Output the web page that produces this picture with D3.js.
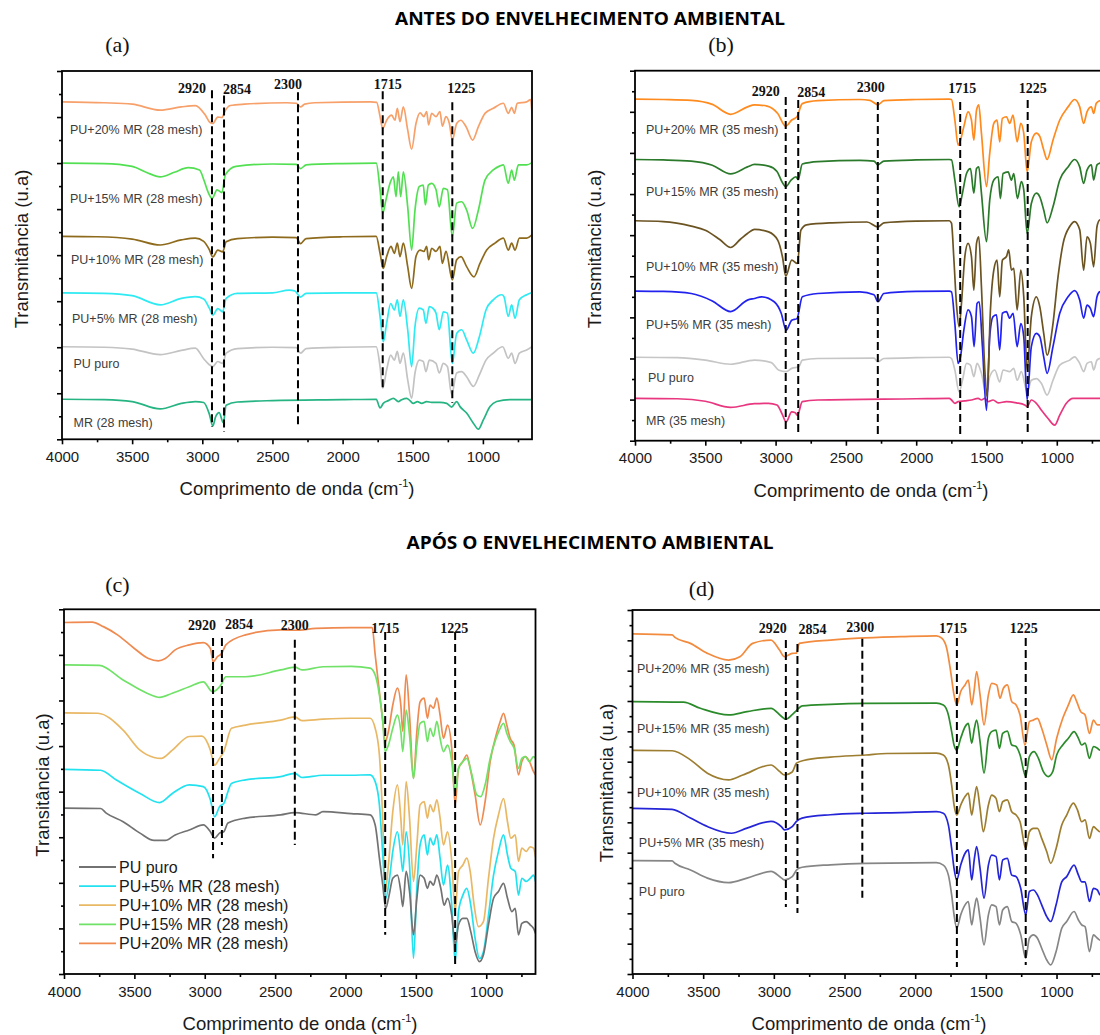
<!DOCTYPE html>
<html>
<head>
<meta charset="utf-8">
<script src="https://cdn.jsdelivr.net/npm/d3@7.9.0/dist/d3.min.js"></script>
<style>
  body { margin: 0; background: #fff; }
  svg { display: block; }
</style>
</head>
<body>
<svg id="chart" width="1100" height="1035"></svg>
<script>
// ---- shared axis values ----
const wavenumberTicks = [4000, 3500, 3000, 2500, 2000, 1500, 1000];
const wavenumberMinor = [3750, 3250, 2750, 2250, 1750, 1250, 750];
const peakLabels = ["2920", "2854", "2300", "1715", "1225"];

// ---- (a) antes, 28 mesh : [wavenumber, transmittance (u.a.)] ----
const a_pu20 = [[4000,7.33],[3700,7.31],[3500,7.28],[3300,7.15],[3150,7.22],[3050,7.25],[2980,7.05],[2945,6.88],[2925,6.86],[2890,7.0],[2860,6.99],[2840,7.12],[2800,7.25],[2700,7.28],[2400,7.31],[2330,7.3],[2300,7.22],[2270,7.28],[2200,7.31],[1800,7.33],
  [1757,7.32],[1733,7.01],[1714,6.75],[1686,6.93],[1650,7.04],[1627,6.93],[1610,7.19],[1591,6.90],[1567,7.22],[1536,6.72],[1508,6.30],[1477,6.86],[1448,7.09],[1420,7.01],[1401,7.12],[1387,6.83],[1365,7.08],[1334,7.01],[1306,7.12],[1289,6.80],[1263,7.01],[1239,6.86],[1218,6.50],[1187,6.86],[1158,6.93],[1120,6.79],[1073,6.50],[1032,6.79],[985,7.08],[926,7.19],[854,7.30],[819,7.08],[795,7.21],[776,7.08],[755,7.30],[688,7.33],[660,7.38],[650,7.08]];
const a_pu15 = [[4000,6.00],[3700,5.99],[3500,5.93],[3400,5.80],[3300,5.70],[3200,5.80],[3100,5.90],[3020,5.85],[2985,5.60],[2960,5.38],[2930,5.23],[2895,5.42],[2860,5.36],[2835,5.75],[2760,5.93],[2500,5.98],[2330,5.97],[2300,5.88],[2260,5.96],[2000,5.99],[1760,6.0],
  [1733,5.42],[1714,4.91],[1691,5.20],[1662,5.56],[1638,5.70],[1619,5.27],[1603,5.81],[1586,5.27],[1567,5.81],[1536,5.05],[1508,4.11],[1484,4.98],[1453,5.49],[1425,5.52],[1410,5.09],[1389,5.52],[1365,5.56],[1334,5.42],[1311,5.05],[1282,5.45],[1253,5.42],[1218,4.40],[1187,5.13],[1151,5.16],[1116,4.98],[1073,4.58],[1032,4.98],[985,5.63],[926,5.85],[878,5.94],[854,5.96],[819,5.56],[795,5.85],[776,5.63],[747,5.96],[688,5.96],[650,6.01]];
const a_pu10 = [[4000,4.41],[3750,4.40],[3500,4.35],[3300,4.22],[3150,4.33],[3050,4.37],[2990,4.30],[2950,4.12],[2925,3.96],[2890,4.11],[2855,4.07],[2830,4.29],[2750,4.36],[2500,4.39],[2330,4.38],[2300,4.25],[2260,4.36],[2000,4.40],[1760,4.41],
  [1733,4.04],[1710,3.71],[1686,3.97],[1655,4.19],[1631,4.04],[1610,4.26],[1591,3.97],[1567,4.26],[1536,3.75],[1508,3.28],[1477,3.97],[1448,4.11],[1420,4.08],[1401,4.19],[1387,3.90],[1365,4.15],[1334,4.08],[1306,4.19],[1289,3.82],[1263,4.08],[1218,3.46],[1187,3.90],[1156,3.97],[1116,3.75],[1063,3.53],[1021,3.82],[973,4.11],[914,4.26],[854,4.37],[819,4.11],[795,4.26],[771,4.11],[740,4.37],[688,4.37],[650,4.44]];
const a_pu5 = [[4000,3.18],[3700,3.17],[3500,3.12],[3300,2.92],[3150,3.06],[3050,3.10],[2990,3.05],[2950,2.85],[2925,2.70],[2890,2.84],[2855,2.77],[2830,3.06],[2750,3.17],[2500,3.18],[2380,3.24],[2340,3.22],[2300,3.09],[2260,3.17],[2000,3.18],[1760,3.18],
  [1733,2.67],[1710,2.12],[1686,2.52],[1657,2.95],[1631,2.81],[1610,3.03],[1591,2.67],[1567,3.03],[1536,2.38],[1508,1.58],[1484,2.45],[1453,2.85],[1425,2.81],[1406,2.52],[1382,2.88],[1358,2.85],[1334,2.74],[1311,2.38],[1282,2.77],[1253,2.74],[1218,1.65],[1187,2.30],[1151,2.38],[1116,2.16],[1068,1.87],[1025,2.23],[978,2.81],[926,3.03],[866,3.14],[850,3.10],[819,2.67],[795,2.92],[771,2.63],[740,3.03],[688,3.14],[650,3.19]];
const a_puro = [[4000,2.01],[3700,2.0],[3500,1.96],[3300,1.84],[3150,1.93],[3050,1.98],[2990,1.75],[2950,1.62],[2925,1.58],[2890,1.69],[2855,1.65],[2830,1.87],[2750,1.97],[2500,2.0],[2330,1.99],[2300,1.87],[2260,1.97],[2000,2.0],[1760,2.01],
  [1733,1.58],[1714,1.11],[1686,1.51],[1657,1.83],[1631,1.72],[1610,1.91],[1591,1.65],[1567,1.87],[1536,1.29],[1508,0.89],[1484,1.44],[1453,1.72],[1425,1.69],[1406,1.47],[1382,1.72],[1334,1.65],[1311,1.44],[1282,1.65],[1253,1.58],[1223,0.97],[1187,1.44],[1151,1.47],[1116,1.36],[1068,1.15],[1025,1.40],[978,1.72],[926,1.87],[859,2.01],[819,1.76],[795,1.87],[771,1.65],[740,1.87],[688,1.94],[650,2.01]];
const a_mr = [[4000,0.87],[3700,0.86],[3500,0.82],[3300,0.66],[3150,0.78],[3050,0.82],[2990,0.80],[2950,0.55],[2925,0.29],[2905,0.49],[2880,0.58],[2850,0.36],[2830,0.74],[2750,0.81],[2500,0.84],[2000,0.86],[1760,0.87],
  [1733,0.68],[1710,0.78],[1674,0.84],[1638,0.89],[1603,0.82],[1579,0.86],[1543,0.89],[1520,0.84],[1496,0.78],[1467,0.82],[1436,0.78],[1401,0.82],[1365,0.80],[1306,0.80],[1258,0.78],[1223,0.70],[1187,0.82],[1163,0.71],[1116,0.57],[1068,0.35],[1032,0.22],[997,0.42],[949,0.71],[902,0.82],[807,0.86],[650,0.86]];

// ---- (b) antes, 35 mesh ----
const b_pu20 = [[4000,8.31],[3800,8.30],[3600,8.28],[3450,8.18],[3320,7.94],[3200,8.12],[3150,8.17],[3060,8.14],[2985,7.96],[2928,7.65],[2885,7.80],[2848,7.88],[2810,8.20],[2700,8.27],[2400,8.30],[2330,8.28],[2272,8.17],[2230,8.27],[2000,8.30],[1765,8.31],
  [1749,8.30],[1725,7.80],[1702,7.19],[1685,7.31],[1661,7.64],[1631,8.00],[1607,7.80],[1590,7.31],[1571,8.04],[1555,8.17],[1536,7.48],[1500,6.18],[1477,6.99],[1448,7.72],[1425,7.80],[1406,7.27],[1387,7.84],[1358,7.88],[1335,7.72],[1311,7.92],[1282,7.27],[1256,7.72],[1235,7.48],[1211,6.54],[1181,7.27],[1145,7.48],[1121,7.40],[1093,7.07],[1069,6.84],[1027,7.31],[979,7.80],[920,8.12],[873,8.30],[837,8.12],[809,7.72],[785,8.00],[754,8.12],[738,7.96],[719,8.21],[695,8.27],[650,8.30]];
const b_pu15 = [[4000,6.84],[3800,6.83],[3600,6.80],[3450,6.70],[3320,6.49],[3200,6.66],[3150,6.72],[3050,6.68],[2990,6.55],[2955,6.30],[2928,6.18],[2890,6.34],[2855,6.42],[2840,6.35],[2810,6.73],[2700,6.79],[2400,6.82],[2300,6.80],[2272,6.71],[2230,6.80],[2000,6.83],[1765,6.84],
  [1749,6.83],[1725,6.34],[1695,5.69],[1671,6.02],[1642,6.50],[1614,6.62],[1590,6.02],[1571,6.62],[1555,6.66],[1536,6.02],[1500,4.84],[1477,5.85],[1448,6.34],[1417,6.42],[1401,5.89],[1382,6.50],[1346,6.54],[1323,6.34],[1306,6.50],[1280,5.89],[1252,6.30],[1235,6.10],[1211,5.04],[1181,5.77],[1145,6.02],[1121,5.93],[1093,5.61],[1069,5.30],[1027,5.69],[979,6.34],[920,6.66],[873,6.84],[837,6.66],[809,6.26],[785,6.58],[754,6.71],[738,6.34],[714,6.71],[695,6.75],[650,6.80]];
const b_pu10 = [[4000,5.35],[3800,5.33],[3600,5.22],[3500,5.12],[3400,4.90],[3320,4.70],[3250,4.90],[3200,5.04],[3150,5.14],[3050,5.08],[2985,4.88],[2950,4.45],[2928,4.00],[2885,4.39],[2845,4.31],[2820,5.12],[2780,5.25],[2600,5.30],[2350,5.32],[2272,5.20],[2230,5.30],[2000,5.34],[1765,5.35],
  [1749,5.29],[1733,4.48],[1714,3.34],[1695,2.77],[1678,3.34],[1654,4.48],[1631,4.80],[1607,4.48],[1590,3.66],[1571,4.80],[1555,4.96],[1536,3.75],[1512,1.72],[1496,1.07],[1472,3.18],[1448,4.15],[1425,4.39],[1406,3.50],[1387,4.39],[1358,4.48],[1342,4.64],[1323,4.15],[1306,4.19],[1282,3.18],[1256,4.15],[1235,3.50],[1211,1.72],[1181,3.02],[1145,3.50],[1121,3.26],[1093,2.61],[1069,2.08],[1027,2.85],[991,3.99],[955,4.80],[908,5.21],[873,5.33],[837,5.13],[809,4.15],[785,4.96],[761,4.80],[738,4.23],[714,5.21],[695,5.37],[650,5.40]];
const b_pu5 = [[4000,3.64],[3800,3.63],[3600,3.58],[3450,3.40],[3320,3.14],[3200,3.42],[3150,3.46],[3100,3.50],[3010,3.38],[2960,3.10],[2925,2.69],[2885,2.93],[2848,2.97],[2810,3.50],[2700,3.58],[2400,3.62],[2300,3.55],[2272,3.38],[2230,3.58],[2000,3.63],[1765,3.64],
  [1749,3.62],[1725,2.85],[1702,1.88],[1685,2.04],[1661,2.69],[1631,3.18],[1607,3.02],[1588,2.29],[1567,3.34],[1552,3.38],[1529,2.29],[1500,0.74],[1477,2.53],[1453,3.02],[1429,3.06],[1406,2.21],[1387,3.10],[1358,3.14],[1335,2.98],[1311,3.10],[1282,2.29],[1256,2.85],[1235,2.53],[1211,0.99],[1181,2.29],[1145,2.61],[1121,2.53],[1093,2.04],[1069,1.64],[1027,2.29],[979,3.10],[920,3.50],[873,3.65],[837,3.42],[809,2.98],[785,3.30],[761,3.22],[738,3.02],[714,3.50],[695,3.62],[650,3.65]];
const b_puro = [[4000,2.03],[3700,2.02],[3500,1.96],[3320,1.86],[3150,1.96],[3030,1.90],[2980,1.72],[2925,1.68],[2885,1.76],[2835,1.80],[2810,1.96],[2700,2.00],[2300,2.01],[2272,1.92],[2230,2.00],[2000,2.02],[1765,2.03],
  [1749,2.00],[1725,1.72],[1695,1.19],[1671,1.47],[1642,1.88],[1614,1.84],[1590,1.56],[1567,1.88],[1536,1.64],[1500,1.11],[1477,1.56],[1441,1.72],[1406,1.43],[1382,1.72],[1335,1.68],[1306,1.76],[1282,1.47],[1252,1.68],[1211,1.19],[1181,1.47],[1145,1.51],[1109,1.39],[1069,1.11],[1027,1.47],[979,1.84],[908,1.96],[873,2.04],[837,1.88],[809,1.68],[785,1.88],[754,1.92],[738,1.72],[714,1.96],[695,2.00],[650,2.03]];
const b_mr = [[4000,1.03],[3700,1.02],[3500,0.96],[3320,0.81],[3150,0.90],[3050,0.91],[2990,0.87],[2955,0.66],[2925,0.46],[2885,0.70],[2860,0.68],[2845,0.62],[2810,0.95],[2700,0.99],[2000,1.02],[1765,1.03],
  [1749,0.99],[1725,0.91],[1702,0.95],[1654,0.97],[1607,0.99],[1560,1.03],[1536,0.99],[1512,1.03],[1488,0.95],[1453,0.99],[1417,0.92],[1358,0.95],[1287,0.92],[1228,0.87],[1211,0.83],[1181,0.99],[1145,0.91],[1109,0.74],[1062,0.54],[1015,0.38],[979,0.62],[932,0.91],[884,1.03],[695,1.03],[650,1.03]];

// ---- (c) após, 28 mesh ----
const c_pu20 = [[4000,7.71],[3800,7.72],[3720,7.62],[3620,7.44],[3500,7.14],[3400,6.92],[3330,6.87],[3280,6.92],[3210,7.11],[3110,7.22],[3010,7.27],[2960,7.14],[2940,6.85],[2910,6.96],[2880,7.03],[2850,7.22],[2710,7.44],[2460,7.55],[2360,7.54],[2210,7.58],[1960,7.60],[1810,7.60],
  [1789,7.00],[1759,6.19],[1735,5.54],[1718,5.10],[1695,5.32],[1664,5.90],[1631,6.27],[1607,5.90],[1593,5.32],[1569,6.56],[1545,5.68],[1517,4.29],[1493,5.32],[1470,5.97],[1441,6.05],[1418,5.61],[1399,5.90],[1375,5.83],[1351,6.05],[1328,5.68],[1304,5.17],[1275,5.46],[1245,4.95],[1221,3.71],[1197,4.51],[1166,4.66],[1138,4.80],[1114,4.51],[1079,3.93],[1043,3.27],[1008,3.78],[972,4.66],[930,5.24],[901,5.54],[877,5.72],[854,5.46],[830,5.17],[802,5.02],[771,4.37],[747,4.66],[723,4.77],[693,4.66],[664,4.44],[650,4.37]];
const c_pu15 = [[4000,6.78],[3750,6.77],[3580,6.45],[3410,6.16],[3320,6.07],[3230,6.16],[3110,6.30],[3010,6.41],[2945,6.19],[2885,6.34],[2850,6.52],[2710,6.52],[2460,6.67],[2360,6.73],[2310,6.67],[2160,6.74],[1960,6.75],[1825,6.71],
  [1789,6.56],[1759,6.12],[1735,5.54],[1718,4.88],[1695,5.02],[1664,5.39],[1631,5.68],[1607,5.32],[1593,4.88],[1569,5.79],[1545,5.24],[1517,4.29],[1493,5.02],[1470,5.50],[1441,5.54],[1418,5.10],[1399,5.39],[1375,5.21],[1351,5.54],[1328,5.17],[1304,4.88],[1275,5.02],[1245,4.66],[1221,4.00],[1197,4.51],[1166,4.66],[1138,4.73],[1102,4.37],[1067,3.93],[1039,3.89],[1008,4.15],[972,4.73],[930,5.17],[901,5.39],[877,5.50],[854,5.28],[830,5.10],[802,4.95],[771,4.51],[747,4.73],[723,4.77],[693,4.66],[664,4.77],[650,4.73]];
const c_pu10 = [[4000,5.73],[3760,5.72],[3580,5.35],[3460,4.91],[3360,4.75],[3310,4.73],[3230,4.91],[3110,5.21],[3020,5.22],[2960,4.91],[2930,4.58],[2895,4.73],[2865,4.88],[2810,5.39],[2710,5.46],[2460,5.57],[2360,5.64],[2310,5.56],[2160,5.59],[1960,5.61],[1825,5.61],
  [1789,5.39],[1759,4.80],[1735,3.34],[1718,1.81],[1695,2.39],[1664,3.56],[1631,4.15],[1607,3.42],[1593,2.83],[1569,4.22],[1545,3.42],[1517,2.03],[1493,2.83],[1470,3.71],[1441,3.78],[1418,3.42],[1399,3.71],[1375,3.56],[1351,3.82],[1328,3.42],[1304,2.83],[1275,3.12],[1245,2.47],[1221,1.37],[1197,2.25],[1166,2.39],[1138,2.54],[1114,2.25],[1086,1.51],[1055,1.04],[1020,1.15],[984,2.10],[948,2.98],[913,3.49],[877,3.85],[849,3.34],[825,2.98],[794,3.05],[771,2.47],[747,2.76],[716,2.69],[688,2.79],[664,2.76],[650,2.57]];
const c_pu5 = [[4000,4.49],[3740,4.47],[3630,4.26],[3460,3.96],[3320,3.76],[3230,3.96],[3110,4.15],[3010,4.11],[2960,3.82],[2930,3.45],[2895,3.67],[2865,3.74],[2810,4.18],[2710,4.26],[2460,4.33],[2360,4.40],[2310,4.31],[2160,4.36],[1960,4.36],[1825,4.37],
  [1789,4.22],[1759,3.71],[1735,2.61],[1714,1.66],[1690,2.03],[1664,2.69],[1631,3.12],[1607,2.61],[1593,2.25],[1569,3.12],[1545,2.39],[1517,0.34],[1493,1.88],[1470,2.83],[1441,3.05],[1418,2.61],[1399,2.98],[1375,2.83],[1351,3.05],[1328,2.54],[1304,1.95],[1275,2.39],[1245,1.51],[1221,0.27],[1197,1.37],[1166,1.73],[1138,1.88],[1110,1.51],[1079,0.78],[1048,0.34],[1020,0.49],[984,1.29],[948,2.17],[913,2.69],[877,3.05],[849,2.61],[825,2.32],[794,2.25],[771,1.73],[747,2.10],[716,2.03],[688,2.10],[664,2.17],[650,2.03]];
const c_puro = [[4000,3.64],[3740,3.63],[3700,3.53],[3580,3.34],[3460,3.09],[3360,2.93],[3280,2.93],[3210,3.05],[3110,3.16],[3010,3.27],[2960,3.12],[2930,2.98],[2895,3.09],[2865,3.12],[2835,3.31],[2710,3.42],[2460,3.49],[2360,3.54],[2210,3.49],[2160,3.56],[1960,3.52],[1825,3.49],
  [1789,3.27],[1759,2.54],[1735,1.95],[1714,1.44],[1690,1.73],[1664,2.10],[1631,2.17],[1607,1.81],[1593,1.48],[1569,2.25],[1545,1.81],[1517,0.86],[1493,1.66],[1470,2.17],[1441,2.10],[1418,1.88],[1399,2.03],[1375,1.95],[1351,2.17],[1323,1.88],[1299,1.51],[1275,1.66],[1245,1.29],[1221,0.64],[1197,1.08],[1166,1.22],[1138,1.22],[1110,0.93],[1079,0.49],[1048,0.27],[1020,0.42],[984,1.08],[948,1.66],[913,1.81],[877,1.99],[849,1.66],[818,1.37],[794,1.44],[771,0.86],[747,1.11],[716,1.15],[688,1.08],[664,1.00],[650,0.89]];

// ---- (d) após, 35 mesh ----
const d_pu20 = [[4000,11.21],[3720,11.18],[3700,11.10],[3590,10.90],[3470,10.57],[3320,10.35],[3240,10.46],[3150,10.90],[3020,11.01],[2960,10.68],[2925,10.46],[2870,10.57],[2840,10.58],[2820,10.90],[2600,11.01],[2400,11.07],[2100,11.12],[1850,11.15],
  [1812,11.07],[1777,10.74],[1749,9.97],[1725,9.20],[1706,8.87],[1678,9.31],[1647,9.53],[1624,9.69],[1600,8.87],[1584,9.31],[1565,9.97],[1541,9.20],[1513,8.21],[1482,9.20],[1459,9.58],[1423,9.53],[1400,9.09],[1376,9.42],[1348,9.53],[1317,8.98],[1286,8.87],[1258,8.54],[1223,7.55],[1192,8.32],[1164,8.37],[1135,8.43],[1105,8.10],[1069,7.55],[1034,7.06],[999,7.77],[956,8.43],[916,8.87],[881,9.20],[857,8.98],[829,8.65],[798,8.54],[767,7.93],[739,8.37],[711,8.21],[692,8.21],[650,8.30]];
const d_pu15 = [[4000,8.98],[3640,8.96],[3520,8.76],[3320,8.54],[3190,8.65],[3020,8.76],[2945,8.49],[2915,8.40],[2870,8.55],[2835,8.71],[2800,8.84],[2600,8.89],[2350,8.92],[1850,8.93],
  [1801,8.87],[1765,8.54],[1742,7.99],[1725,7.55],[1706,7.38],[1678,7.77],[1647,8.15],[1624,8.26],[1600,7.61],[1581,8.10],[1565,8.37],[1541,7.66],[1513,6.62],[1482,7.77],[1459,7.99],[1428,8.04],[1404,7.44],[1381,7.93],[1348,8.01],[1317,7.55],[1286,7.50],[1258,7.22],[1218,6.51],[1192,7.17],[1159,7.33],[1128,7.11],[1093,6.67],[1058,6.51],[1027,6.67],[999,7.22],[956,7.55],[916,7.77],[876,7.99],[845,7.77],[822,7.55],[798,7.61],[767,7.11],[739,7.50],[711,7.44],[692,7.38],[650,7.45]];
const d_pu10 = [[4000,7.37],[3720,7.36],[3590,7.06],[3470,6.62],[3320,6.40],[3220,6.56],[3020,6.89],[2960,6.68],[2925,6.56],[2870,6.66],[2840,6.95],[2790,7.04],[2600,7.15],[2350,7.22],[2200,7.27],[1850,7.28],
  [1801,7.22],[1765,6.89],[1742,6.23],[1725,5.57],[1706,5.24],[1678,5.57],[1647,5.85],[1624,5.96],[1600,5.24],[1581,5.79],[1565,6.18],[1541,5.46],[1518,4.69],[1482,5.57],[1459,5.90],[1428,5.79],[1404,5.35],[1381,5.68],[1348,5.74],[1317,5.35],[1286,5.24],[1258,5.02],[1218,4.14],[1192,4.69],[1164,4.80],[1135,4.80],[1105,4.47],[1069,4.03],[1041,3.65],[1003,4.14],[963,4.91],[928,5.24],[881,5.63],[852,5.41],[822,5.02],[798,5.08],[767,4.47],[739,4.86],[711,4.75],[692,4.69],[650,4.75]];
const d_pu5 = [[4000,5.46],[3720,5.43],[3590,5.14],[3470,4.86],[3300,4.64],[3190,4.81],[3020,5.03],[2945,4.85],[2925,4.75],[2870,4.86],[2840,5.03],[2800,5.14],[2600,5.25],[2350,5.30],[2100,5.32],[1850,5.35],
  [1801,5.30],[1765,4.91],[1742,4.14],[1725,3.48],[1706,3.10],[1678,3.59],[1647,3.98],[1624,4.09],[1600,3.10],[1581,3.81],[1565,4.20],[1541,3.48],[1513,2.50],[1482,3.59],[1459,3.92],[1428,3.87],[1404,3.10],[1381,3.76],[1348,3.81],[1317,3.26],[1286,3.21],[1253,2.82],[1218,1.95],[1192,2.72],[1164,2.77],[1135,2.61],[1105,2.28],[1069,1.89],[1041,1.73],[1003,2.28],[963,3.04],[928,3.21],[876,3.59],[845,3.26],[822,3.04],[798,3.04],[767,2.39],[739,2.82],[711,2.77],[692,2.61],[650,2.70]];
const d_puro = [[4000,3.74],[3720,3.73],[3700,3.65],[3590,3.43],[3470,3.16],[3320,3.01],[3190,3.16],[3020,3.38],[2945,3.16],[2925,3.10],[2870,3.21],[2835,3.45],[2800,3.52],[2600,3.60],[2350,3.65],[1850,3.67],
  [1801,3.59],[1765,3.26],[1742,2.61],[1725,1.95],[1706,1.51],[1678,1.95],[1647,2.28],[1624,2.39],[1600,1.62],[1581,2.17],[1565,2.50],[1541,1.84],[1513,0.96],[1482,1.95],[1459,2.28],[1428,2.22],[1404,1.62],[1381,2.11],[1348,2.22],[1317,1.73],[1286,1.67],[1253,1.29],[1218,0.52],[1192,1.18],[1164,1.29],[1135,1.18],[1105,0.85],[1069,0.46],[1041,0.30],[1003,0.74],[963,1.51],[928,1.73],[876,2.06],[845,1.78],[822,1.62],[798,1.56],[767,0.74],[739,1.29],[711,1.18],[692,1.12],[650,1.15]];

// dashed reference lines: [wavenumber drawn, top value, bottom value]
const peaksA = [[2931,7.58,0.27],[2845,7.47,0.16],[2318,7.54,0.25],[1714,7.56,1.11],[1218,7.32,0.79]];
const peaksB = [[2928,8.36,0.26],[2839,8.29,0.14],[2273,8.24,0.09],[1687,8.24,0.07],[1207,8.29,0.14]];
const peaksC = [[2941,7.37,2.54],[2878,7.37,2.83],[2360,7.33,2.83],[1718,7.50,0.86],[1221,7.50,0.20]];
const peaksD = [[2915,11.01,2.21],[2833,10.88,2.01],[2374,11.05,2.51],[1705,11.08,0.23],[1218,11.08,0.30]];

const svg = d3.select("#chart");
const sans = "'Liberation Sans', Arial, sans-serif";
const serif = "'Liberation Serif', 'Times New Roman', serif";

const panels = [
  { id: "a", left: 62, right: 532, top: 71, bottom: 439.3, yMax: 8, letter: "(a)", letterX: 117.5, letterY: 52,
    yTitle: "Transmitância (u.a)", yTitleX: 21, yTitleY: 249, xTitleX: 297,
    peaks: peaksA, peakOffsets: [[-20,22],[13,23],[-10,18],[5,18],[9,22]],
    series: [
      { name: "PU+20% MR (28 mesh)", color: "#f7a06a", data: a_pu20, labelV: 6.63, labelDx: 8 },
      { name: "PU+15% MR (28 mesh)", color: "#52e052", data: a_pu15, labelV: 5.13, labelDx: 8 },
      { name: "PU+10% MR (28 mesh)", color: "#8e6a1c", data: a_pu10, labelV: 3.80, labelDx: 9 },
      { name: "PU+5% MR (28 mesh)", color: "#2eeaf2", data: a_pu5, labelV: 2.52, labelDx: 10 },
      { name: "PU puro", color: "#c3c3c3", data: a_puro, labelV: 1.55, labelDx: 11.5 },
      { name: "MR (28 mesh)", color: "#25b482", data: a_mr, labelV: 0.27, labelDx: 11.5 }
    ] },
  { id: "b", left: 635, right: 1106, top: 70.7, bottom: 440.7, yMax: 9, letter: "(b)", letterX: 721, letterY: 52,
    yTitle: "Transmitância (u.a)", yTitleX: 594, yTitleY: 249, xTitleX: 871,
    peaks: peaksB, peakOffsets: [[-20,25],[13,26],[-7,21],[2,22],[5,22]],
    series: [
      { name: "PU+20% MR (35 mesh)", color: "#ff8a1e", data: b_pu20, labelV: 7.46, labelDx: 11 },
      { name: "PU+15% MR (35 mesh)", color: "#2b7a2b", data: b_pu15, labelV: 5.95, labelDx: 11 },
      { name: "PU+10% MR (35 mesh)", color: "#6b5322", data: b_pu10, labelV: 4.13, labelDx: 11 },
      { name: "PU+5% MR (35 mesh)", color: "#2222ee", data: b_pu5, labelV: 2.72, labelDx: 11 },
      { name: "PU puro", color: "#c6c6c6", data: b_puro, labelV: 1.43, labelDx: 13 },
      { name: "MR (35 mesh)", color: "#e8377f", data: b_mr, labelV: 0.38, labelDx: 11 }
    ] },
  { id: "c", left: 64, right: 535.5, top: 609.3, bottom: 974, yMax: 8, letter: "(c)", letterX: 117.5, letterY: 592,
    yTitle: "Transitância (u.a)", yTitleX: 42, yTitleY: 785, xTitleX: 300,
    peaks: peaksC, peakOffsets: [[-11,21],[17,20],[0,21],[0,24],[-1,24]],
    series: [
      { name: "PU puro", color: "#727272", data: c_puro },
      { name: "PU+5% MR (28 mesh)", color: "#22e2f0", data: c_pu5 },
      { name: "PU+10% MR (28 mesh)", color: "#e9b865", data: c_pu10 },
      { name: "PU+15% MR (28 mesh)", color: "#70e268", data: c_pu15 },
      { name: "PU+20% MR (28 mesh)", color: "#ef8a50", data: c_pu20 }
    ], legend: { x: 79, y: 867, row: 19.1 } },
  { id: "d", left: 632.5, right: 1106, top: 610, bottom: 974, yMax: 12, letter: "(d)", letterX: 701.5, letterY: 596,
    yTitle: "Transmitância (u.a)", yTitleX: 606, yTitleY: 783, xTitleX: 869,
    peaks: peaksD, peakOffsets: [[-13,23],[15,24],[-2,22],[-4,23],[-2,23]],
    series: [
      { name: "PU+20% MR (35 mesh)", color: "#f28b3e", data: d_pu20, labelV: 9.92, labelDx: 4.5 },
      { name: "PU+15% MR (35 mesh)", color: "#2b8b2b", data: d_pu15, labelV: 7.95, labelDx: 4.5 },
      { name: "PU+10% MR (35 mesh)", color: "#9d7d30", data: d_pu10, labelV: 5.84, labelDx: 4.5 },
      { name: "PU+5% MR (35 mesh)", color: "#2525d8", data: d_pu5, labelV: 4.19, labelDx: 6.3 },
      { name: "PU puro", color: "#868686", data: d_puro, labelV: 2.57, labelDx: 6.3 }
    ] }
];

function drawPanel(p) {
  const g = svg.append("g");
  const x = d3.scaleLinear().domain([4000, 650]).range([p.left, p.right]);
  const y = d3.scaleLinear().domain([0, p.yMax]).range([p.bottom, p.top]);

  const clipId = "clip-" + p.id;
  svg.append("clipPath").attr("id", clipId)
    .append("rect")
    .attr("x", p.left).attr("y", p.top)
    .attr("width", p.right - p.left).attr("height", p.bottom - p.top);

  const line = d3.line()
    .x((d) => x(d[0]))
    .y((d) => y(d[1]))
    .curve(d3.curveMonotoneX);

  const plot = g.append("g").attr("clip-path", `url(#${clipId})`);
  // draw bottom series first so the top ones sit above
  p.series.slice().reverse().forEach((s) => {
    plot.append("path")
      .datum(s.data)
      .attr("d", line)
      .attr("fill", "none")
      .attr("stroke", s.color)
      .attr("stroke-width", 1.7)
      .attr("stroke-linejoin", "round");
  });

  // inline series labels
  p.series.forEach((s) => {
    if (s.labelV === undefined) return;
    g.append("text")
      .attr("x", p.left + s.labelDx)
      .attr("y", y(s.labelV))
      .attr("font-family", sans)
      .attr("font-size", 12.5)
      .attr("fill", "#3c3c3c")
      .text(s.name);
  });

  // dashed peak markers
  p.peaks.forEach((pk, i) => {
    g.append("line")
      .attr("x1", x(pk[0])).attr("x2", x(pk[0]))
      .attr("y1", y(pk[1])).attr("y2", y(pk[2]))
      .attr("stroke", "#000")
      .attr("stroke-width", 2)
      .attr("stroke-dasharray", "8,4");
    g.append("text")
      .attr("x", x(pk[0]) + p.peakOffsets[i][0])
      .attr("y", p.top + p.peakOffsets[i][1])
      .attr("text-anchor", "middle")
      .attr("font-family", serif)
      .attr("font-weight", "bold")
      .attr("font-size", 14)
      .attr("fill", "#111")
      .text(peakLabels[i]);
  });

  // axes
  const xMajor = g.append("g")
    .attr("transform", `translate(0,${p.bottom})`)
    .call(d3.axisBottom(x).tickValues(wavenumberTicks).tickSize(5).tickPadding(7).tickFormat(d3.format("d")));
  const xMinor = g.append("g")
    .attr("transform", `translate(0,${p.bottom})`)
    .call(d3.axisBottom(x).tickValues(wavenumberMinor).tickSize(3).tickFormat(""));
  const yMajor = g.append("g")
    .attr("transform", `translate(${p.left},0)`)
    .call(d3.axisLeft(y).tickValues(d3.range(0, p.yMax + 0.01, 1)).tickSize(5).tickFormat(""));
  const yMinor = g.append("g")
    .attr("transform", `translate(${p.left},0)`)
    .call(d3.axisLeft(y).tickValues(d3.range(0.5, p.yMax, 1)).tickSize(3).tickFormat(""));
  [xMajor, xMinor, yMajor, yMinor].forEach((a) => {
    a.select(".domain").remove();
    a.selectAll(".tick line").attr("stroke", "#000").attr("stroke-width", 1.6);
  });
  xMajor.selectAll(".tick text")
    .attr("font-family", sans)
    .attr("font-size", 15)
    .attr("fill", "#1a1a1a");

  // frame
  g.append("rect")
    .attr("x", p.left).attr("y", p.top)
    .attr("width", p.right - p.left).attr("height", p.bottom - p.top)
    .attr("fill", "none")
    .attr("stroke", "#000")
    .attr("stroke-width", 1.8);

  // axis titles
  const xt = g.append("text")
    .attr("x", p.xTitleX)
    .attr("y", p.bottom + 56)
    .attr("text-anchor", "middle")
    .attr("font-family", sans)
    .attr("font-size", 18.5)
    .attr("fill", "#1a1a1a");
  xt.append("tspan").text("Comprimento de onda (cm");
  xt.append("tspan").attr("dy", -8).attr("font-size", 11).text("-1");
  xt.append("tspan").attr("dy", 8).text(")");

  g.append("text")
    .attr("transform", `translate(${p.yTitleX + 6.5},${p.yTitleY}) rotate(-90)`)
    .attr("text-anchor", "middle")
    .attr("font-family", sans)
    .attr("font-size", 18.5)
    .attr("fill", "#1a1a1a")
    .text(p.yTitle);

  // panel letter
  g.append("text")
    .attr("x", p.letterX)
    .attr("y", p.letterY)
    .attr("text-anchor", "middle")
    .attr("font-family", serif)
    .attr("font-size", 22)
    .attr("fill", "#111")
    .text(p.letter);

  // legend (panel c)
  if (p.legend) {
    p.series.forEach((s, i) => {
      const ly = p.legend.y + i * p.legend.row;
      g.append("line")
        .attr("x1", p.legend.x).attr("x2", p.legend.x + 37)
        .attr("y1", ly).attr("y2", ly)
        .attr("stroke", s.color).attr("stroke-width", 1.8);
      g.append("text")
        .attr("x", p.legend.x + 40)
        .attr("y", ly + 5.5)
        .attr("font-family", sans)
        .attr("font-size", 16)
        .attr("fill", "#1a1a1a")
        .text(s.name);
    });
  }
}

panels.forEach(drawPanel);

// section titles
const titles = [
  { text: "ANTES DO ENVELHECIMENTO AMBIENTAL", y: 25, width: 390 },
  { text: "APÓS O ENVELHECIMENTO AMBIENTAL", y: 549, width: 367 }
];
titles.forEach((t) => {
  svg.append("text")
    .attr("x", 590)
    .attr("y", t.y)
    .attr("text-anchor", "middle")
    .attr("font-family", "'Open Sans', 'Noto Sans', sans-serif")
    .attr("font-weight", "bold")
    .attr("font-size", 17)
    .attr("textLength", t.width)
    .attr("lengthAdjust", "spacingAndGlyphs")
    .attr("fill", "#000")
    .text(t.text);
});
</script>
</body>
</html>
